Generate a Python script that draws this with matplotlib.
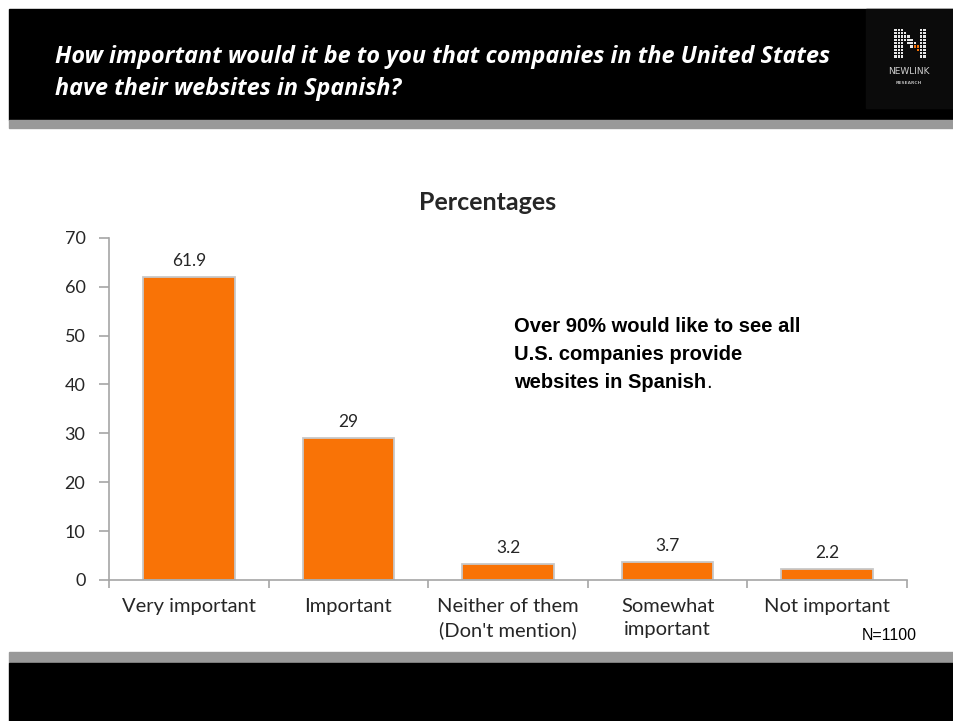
import matplotlib
matplotlib.use("Agg")
import matplotlib.pyplot as plt
from matplotlib.patches import Rectangle
import numpy as np

W, H = 954, 721

categories = ["Very important", "Important", "Neither of them\n(Don't mention)",
              "Somewhat\nimportant", "Not important"]
values = [61.9, 29, 3.2, 3.7, 2.2]
value_labels = ["61.9", "29", "3.2", "3.7", "2.2"]
yticks = [0, 10, 20, 30, 40, 50, 60, 70]

question = ("How important would it be to you that companies in the United States\n"
            "have their websites in Spanish?")
callout = ["Over 90% would like to see all", "U.S. companies provide", "websites in Spanish"]
sample_note = "N=1100"

BAR = "#f97306"
AXIS = "#a6a6a6"
TXT = "#262626"


def fx(x):
    return x / W


def fy(y):
    return 1 - y / H


fig = plt.figure(figsize=(W / 100, H / 100), dpi=100)
fig.patch.set_facecolor("white")

# header and footer bands
fig.patches.append(Rectangle((fx(9), fy(120)), 1 - fx(9), fy(9) - fy(120),
                             transform=fig.transFigure, color="black", zorder=0))
fig.patches.append(Rectangle((fx(9), fy(128)), 1 - fx(9), fy(120) - fy(128),
                             transform=fig.transFigure, color="#999999", zorder=0))
fig.patches.append(Rectangle((fx(9), fy(663)), 1 - fx(9), fy(652) - fy(663),
                             transform=fig.transFigure, color="#999999", zorder=0))
fig.patches.append(Rectangle((fx(9), 0), 1 - fx(9), fy(663),
                             transform=fig.transFigure, color="black", zorder=0))

fig.text(fx(55), fy(73), question, color="white", fontsize=16.8, fontweight="bold",
         fontstyle="italic", family="Open Sans", va="center", ha="left", linespacing=1.45)

# logo block
fig.patches.append(Rectangle((fx(866), fy(108)), 1 - fx(866), fy(9) - fy(108),
                             transform=fig.transFigure, color="#0b0b0b", zorder=0.5))
lax = fig.add_axes([fx(894), fy(58), fx(32), fy(28) - fy(58)], zorder=3)
lax.set_xlim(0, 10)
lax.set_ylim(0, 9)
lax.axis("off")
for i in range(10):
    for j in range(9):
        on = i < 3 or i > 7 or (j >= 7 - i * 0.8 and j <= 9.5 - i * 0.8)
        if on:
            c = "#f97306" if (i in (6, 7) and j in (2, 3)) else "#e8e8e8"
            lax.add_patch(Rectangle((i + 0.15, j + 0.15), 0.7, 0.7, color=c, lw=0))
fig.text(fx(909), fy(72), "NEWLINK", color="#d0d0d0", fontsize=6.5, family="DejaVu Sans",
         ha="center", va="center")
fig.text(fx(909), fy(83), "RESEARCH", color="#b0b0b0", fontsize=3.2, family="DejaVu Sans",
         fontweight="bold", ha="center", va="center")

# chart
ax = fig.add_axes([fx(109), fy(580), fx(907) - fx(109), fy(237.7) - fy(580)])
x = np.arange(len(categories))
ax.bar(x, values, width=0.575, color=BAR, edgecolor="#c8c8c8", linewidth=1.3, zorder=2)
for xi, v, lab in zip(x, values, value_labels):
    ax.annotate(lab, (xi, v), xytext=(0, 6), textcoords="offset points",
                ha="center", va="bottom", fontsize=12.5, color=TXT, family="Lato")

ax.set_xlim(-0.5, len(categories) - 0.5)
ax.set_ylim(0, 70)
ax.set_yticks(yticks)
ax.set_yticklabels([str(t) for t in yticks], fontsize=13, color=TXT, family="Lato")
ax.set_xticks(np.arange(len(categories) + 1) - 0.5)
ax.set_xticklabels([])
ax.set_xticks(x, minor=True)
ax.set_xticklabels(categories, minor=True, fontsize=14.5, color=TXT, family="Lato",
                   linespacing=1.4, va="top")
ax.tick_params(axis="x", which="minor", length=0, pad=13)
ax.tick_params(axis="x", which="major", length=6, color=AXIS, width=1.2)
ax.tick_params(axis="y", length=7, color=AXIS, width=1.2, pad=10)
for s in ("top", "right"):
    ax.spines[s].set_visible(False)
for s in ("left", "bottom"):
    ax.spines[s].set_color(AXIS)
    ax.spines[s].set_linewidth(1.2)

fig.text(fx(488), fy(202), "Percentages", fontsize=18, fontweight="bold", color=TXT,
         family="Lato", ha="center", va="center")

for k, line in enumerate(callout):
    t = fig.text(fx(514), fy(327 + 27.5 * k), line, fontsize=14.5, fontweight="bold",
                 family="Liberation Sans", color="black", ha="left", va="center")
fig.canvas.draw()
bb = t.get_window_extent()
fig.text(bb.x1 / W + 0.0005, fy(327 + 27.5 * 2), ".", fontsize=14.5, family="Liberation Sans",
         color="black", ha="left", va="center")

fig.text(fx(917), fy(636), sample_note, fontsize=11.5, family="Liberation Sans",
         color="black", ha="right", va="center")

fig.savefig("out.png", dpi=100, facecolor="white")
